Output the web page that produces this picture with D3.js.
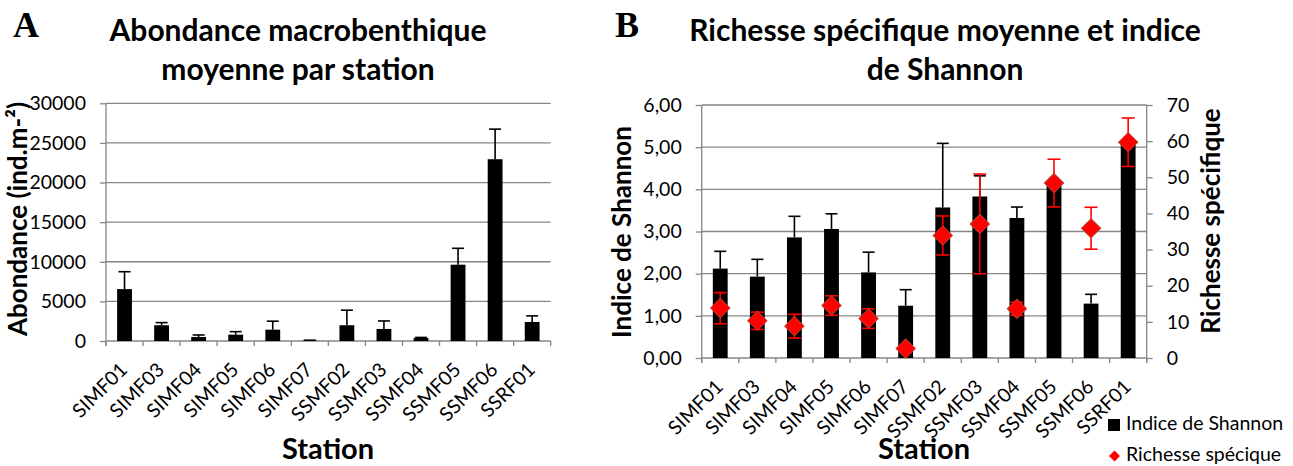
<!DOCTYPE html>
<html>
<head>
<meta charset="utf-8">
<script src="https://cdn.jsdelivr.net/npm/d3@7"></script>
<style>
  body { margin: 0; background: #fff; }
  text { font-family: Lato, "Noto Sans", sans-serif; fill: #000; }
  .tick text { font-size: 19.5px; }
  .grid { stroke: #868686; stroke-width: 1.3; }
  .axis path, .axis line { stroke: #868686; stroke-width: 1.3; }
</style>
</head>
<body>
<svg id="chart" width="1293" height="466"></svg>
<script>
// Stations and values
const stations = ["SIMF01", "SIMF03", "SIMF04", "SIMF05", "SIMF06", "SIMF07",
                  "SSMF02", "SSMF03", "SSMF04", "SSMF05", "SSMF06", "SSRF01"];
const abondance    = [6550, 1990, 510, 800, 1430, 50, 1990, 1520, 380, 9630, 22940, 2400];
const abondanceErr = [2195, 330, 250, 380, 1070, 50, 1900, 1010, 70, 2070, 3800, 770];
const shannon      = [2.12, 1.93, 2.86, 3.06, 2.03, 1.24, 3.57, 3.83, 3.32, 4.10, 1.29, 5.12];
const shannonErr   = [0.41, 0.41, 0.50, 0.36, 0.48, 0.38, 1.52, 0.49, 0.26, 0, 0.22, 0];
const richesse     = [13.8, 10.3, 8.8, 14.5, 10.9, 2.6, 33.9, 37.1, 13.6, 48.4, 35.9, 59.7];
const richesseErr  = [4.3, 2.4, 3.3, 2.7, 2.7, 0, 5.4, 13.8, 1.8, 6.6, 5.8, 6.7];

const abondanceTicks = [0, 5000, 10000, 15000, 20000, 25000, 30000];
const shannonTicks   = [0, 1, 2, 3, 4, 5, 6];
const richesseTicks  = [0, 10, 20, 30, 40, 50, 60, 70];

const svg = d3.select("#chart");
const commaFmt = d => d3.format(".2f")(d).replace(".", ",");

// shared bits: gridlines, boundary ticks, rotated station labels
function baseAxes(g, x, y, ticks, fmt) {
    const [x0, x1] = x.range();
    g.selectAll(".grid").data(ticks.filter(t => t > 0)).join("line")
        .attr("class", "grid")
        .attr("x1", x0).attr("x2", x1)
        .attr("y1", d => y(d)).attr("y2", d => y(d));

    const yAx = g.append("g").attr("class", "axis")
        .attr("transform", `translate(${x0},0)`)
        .call(d3.axisLeft(y).tickValues(ticks).tickFormat(fmt)
            .tickSize(6).tickSizeOuter(0).tickPadding(14));
    yAx.select(".domain").attr("d", `M0,${y.range()[1]}V${y.range()[0] + 5}`);

    const y0 = y(0);
    g.append("line").attr("class", "grid")
        .attr("x1", x0).attr("x2", x1).attr("y1", y0).attr("y2", y0);
    const bounds = stations.map(s => x(s)).concat([x1]);
    g.selectAll(".btick").data(bounds).join("line")
        .attr("class", "grid")
        .attr("x1", d => d).attr("x2", d => d)
        .attr("y1", y0).attr("y2", y0 + 5);

    g.selectAll(".xlab").data(stations).join("text")
        .attr("class", "xlab")
        .attr("transform", d => `translate(${x(d) + x.bandwidth() / 2 + 4},${y0 + 30}) rotate(-45)`)
        .attr("text-anchor", "end")
        .style("font-size", "19.5px")
        .text(d => d);
}

function errBar(g, cx, yTop, yBot, half, color) {
    g.append("line").attr("x1", cx).attr("x2", cx).attr("y1", yTop).attr("y2", yBot)
        .attr("stroke", color).attr("stroke-width", 1.6);
    g.append("line").attr("x1", cx - half).attr("x2", cx + half).attr("y1", yTop).attr("y2", yTop)
        .attr("stroke", color).attr("stroke-width", 1.6);
}

// ---------- Panel A ----------
const xA = d3.scaleBand().domain(stations).range([106, 550.7]);
const yA = d3.scaleLinear().domain([0, 30000]).range([341, 103.3]);
const gA = svg.append("g");
baseAxes(gA, xA, yA, abondanceTicks, d3.format("d"));

const bwA = xA.bandwidth() / 2.5;
stations.forEach((s, i) => {
    const cx = xA(s) + xA.bandwidth() / 2;
    errBar(gA, cx, yA(abondance[i] + abondanceErr[i]), yA(abondance[i]), 6, "#000");
    gA.append("rect")
        .attr("x", cx - bwA / 2).attr("width", bwA)
        .attr("y", yA(abondance[i])).attr("height", yA(0) - yA(abondance[i]))
        .attr("fill", "#000");
});

gA.append("text").attr("x", 13).attr("y", 37)
    .style("font-family", "'Liberation Serif', serif").style("font-weight", "bold").style("font-size", "36px")
    .text("A");
gA.append("text").attr("text-anchor", "middle").style("font-weight", "bold").style("font-size", "30px")
    .selectAll("tspan").data(["Abondance macrobenthique", "moyenne par station"]).join("tspan")
    .attr("x", 298).attr("y", (d, i) => 41 + i * 39).text(d => d);
gA.append("text").attr("transform", "translate(27,219) rotate(-90)")
    .attr("text-anchor", "middle").style("font-weight", "bold").style("font-size", "26px")
    .text("Abondance (ind.m-²)");
gA.append("text").attr("x", 328).attr("y", 459)
    .attr("text-anchor", "middle").style("font-weight", "bold").style("font-size", "29px")
    .text("Station");

// ---------- Panel B ----------
const xB = d3.scaleBand().domain(stations).range([701.7, 1146.7]);
const yB = d3.scaleLinear().domain([0, 6]).range([358, 105]);
const yR = d3.scaleLinear().domain([0, 70]).range([358, 105]);
const gB = svg.append("g");
baseAxes(gB, xB, yB, shannonTicks, commaFmt);

const rAx = gB.append("g").attr("class", "axis")
    .attr("transform", `translate(1146.7,0)`)
    .call(d3.axisRight(yR).tickValues(richesseTicks).tickSize(6).tickSizeOuter(0).tickPadding(14));
rAx.select(".domain").attr("d", `M0,105V363`);

const bwB = xB.bandwidth() / 2.5;
stations.forEach((s, i) => {
    const cx = xB(s) + xB.bandwidth() / 2;
    if (shannonErr[i] > 0)
        errBar(gB, cx, yB(shannon[i] + shannonErr[i]), yB(shannon[i]), 6, "#000");
    gB.append("rect")
        .attr("x", cx - bwB / 2).attr("width", bwB)
        .attr("y", yB(shannon[i])).attr("height", yB(0) - yB(shannon[i]))
        .attr("fill", "#000");
});

const diamond = d3.symbol(d3.symbolSquare, 185);
stations.forEach((s, i) => {
    const cx = xB(s) + xB.bandwidth() / 2;
    if (richesseErr[i] > 0) {
        const yt = yR(richesse[i] + richesseErr[i]), yb = yR(richesse[i] - richesseErr[i]);
        errBar(gB, cx, yt, yb, 6.5, "#ff0000");
        gB.append("line").attr("x1", cx - 6.5).attr("x2", cx + 6.5).attr("y1", yb).attr("y2", yb)
            .attr("stroke", "#ff0000").attr("stroke-width", 1.6);
    }
    gB.append("path").attr("d", diamond)
        .attr("transform", `translate(${cx},${yR(richesse[i])}) rotate(45)`)
        .attr("fill", "#ff0000").attr("stroke", "#c0392b").attr("stroke-width", 1);
});

gB.append("text").attr("x", 615).attr("y", 37)
    .style("font-family", "'Liberation Serif', serif").style("font-weight", "bold").style("font-size", "36px")
    .text("B");
gB.append("text").attr("text-anchor", "middle").style("font-weight", "bold").style("font-size", "30px")
    .selectAll("tspan").data(["Richesse spécifique moyenne et indice", "de Shannon"]).join("tspan")
    .attr("x", 945).attr("y", (d, i) => 41 + i * 39).text(d => d);
gB.append("text").attr("transform", "translate(631,232) rotate(-90)")
    .attr("text-anchor", "middle").style("font-weight", "bold").style("font-size", "26px")
    .text("Indice de Shannon");
gB.append("text").attr("transform", "translate(1220,221) rotate(-90)")
    .attr("text-anchor", "middle").style("font-weight", "bold").style("font-size", "26px")
    .text("Richesse spécifique");
gB.append("text").attr("x", 924).attr("y", 459)
    .attr("text-anchor", "middle").style("font-weight", "bold").style("font-size", "29px")
    .text("Station");

// legend
const leg = gB.append("g");
leg.append("rect").attr("x", 1108).attr("y", 419).attr("width", 12).attr("height", 12).attr("fill", "#000");
leg.append("text").attr("x", 1126).attr("y", 430).style("font-size", "19.5px").text("Indice de Shannon");
leg.append("path").attr("d", d3.symbol(d3.symbolSquare, 60))
    .attr("transform", "translate(1114.5,456) rotate(45)").attr("fill", "#ff0000");
leg.append("text").attr("x", 1126).attr("y", 461).style("font-size", "19.5px").text("Richesse spécique");
</script>
</body>
</html>
